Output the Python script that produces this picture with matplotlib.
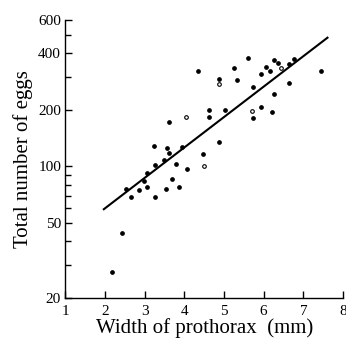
import matplotlib
matplotlib.use("Agg")
import matplotlib.pyplot as plt
from matplotlib.ticker import FixedLocator, NullFormatter

# width of prothorax (mm) and total number of eggs, filled points
width = [2.17, 2.42, 2.53, 2.66, 2.87, 2.99, 3.05, 3.07, 3.26, 3.26,
         3.24, 3.49, 3.55, 3.57, 3.61, 3.61, 3.68, 3.79, 3.87, 3.93,
         4.08, 4.35, 4.48, 4.62, 4.61, 4.88, 4.88, 5.03, 5.26, 5.32,
         5.60, 5.74, 5.74, 5.93, 5.93, 6.06, 6.15, 6.25, 6.35, 6.64,
         6.77, 6.64, 6.25, 6.22, 7.45]
eggs = [27.6, 44.5, 75.7, 69.1, 75.1, 83.8, 78.2, 92.1, 68.9, 101.4,
        129, 108.4, 75.7, 125, 117.7, 173, 85.9, 103, 77.6, 127.6,
        96.5, 320, 116.4, 199, 183, 292, 135.6, 199, 333, 289,
        375, 264, 181, 309, 207, 337, 321, 369, 354, 350,
        372, 277, 242, 194, 321]

# open circles
width_open = [4.04, 4.50, 4.88, 5.71, 6.44]
eggs_open = [184, 101, 275, 196, 333]

# fitted line end points
line_x = [1.95, 7.63]
line_y = [58.8, 487]

y_major = [20, 50, 100, 200, 400, 600]
y_minor = [30, 40, 60, 70, 80, 90, 300, 500]
x_ticks = [1, 2, 3, 4, 5, 6, 7, 8]

plt.rcParams['font.family'] = ['Liberation Serif', 'DejaVu Serif']

fig = plt.figure(figsize=(3.46, 3.54), dpi=100)
ax = fig.add_axes([0.1887, 0.1582, 0.8026, 0.7853])

ax.plot(line_x, line_y, color='black', linewidth=1.5, solid_capstyle='butt')
ax.plot(width, eggs, linestyle='none', marker='o', markersize=2.4,
        color='black')
ax.plot(width_open, eggs_open, linestyle='none', marker='o', markersize=2.6,
        markerfacecolor='white', markeredgecolor='black', markeredgewidth=0.8)

ax.set_yscale('log')
ax.set_xlim(1, 8)
ax.set_ylim(20, 600)
ax.yaxis.set_major_locator(FixedLocator(y_major))
ax.set_yticklabels([str(v) for v in y_major])
ax.yaxis.set_minor_locator(FixedLocator(y_minor))
ax.yaxis.set_minor_formatter(NullFormatter())
ax.set_xticks(x_ticks)
ax.set_xticklabels([str(v) for v in x_ticks])

for side in ['top', 'right']:
    ax.spines[side].set_visible(False)
for side in ['left', 'bottom']:
    ax.spines[side].set_linewidth(1.0)

ax.tick_params(which='major', direction='in', length=5, width=1.0,
               labelsize=11, pad=3)
ax.tick_params(axis='x', which='major', pad=5)
ax.tick_params(which='minor', direction='in', length=4, width=1.0)

ax.set_xlabel('Width of prothorax  (mm)', fontsize=15, labelpad=0)
ax.set_ylabel('Total number of eggs', fontsize=15, labelpad=4)

fig.savefig('out.png', dpi=100)
